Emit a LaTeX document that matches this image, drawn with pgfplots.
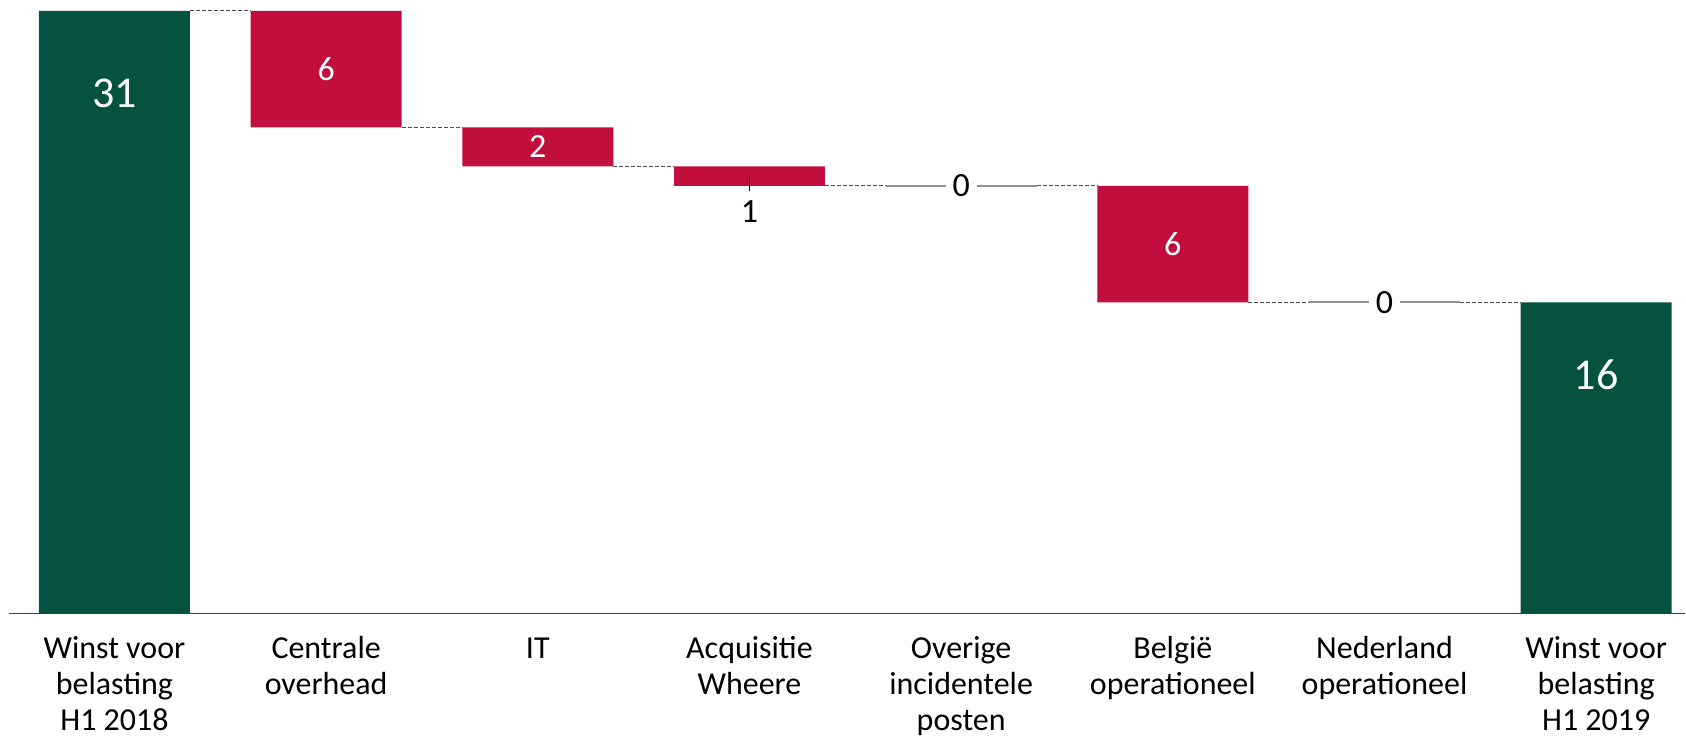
\documentclass[border=0pt]{standalone}
\usepackage{fontspec}
\setmainfont{Carlito}
\usepackage{pgfplots}
\usepackage{pgfplotstable}
\pgfplotsset{compat=1.18}

\definecolor{profitgreen}{HTML}{055241}
\definecolor{lossred}{HTML}{C20E3D}
\definecolor{zerogray}{HTML}{909090}
\definecolor{linkgray}{HTML}{505050}

% Waterfall steps: invisible base, red decrease, green total
\pgfplotstableread{
x base red green
0 0  0 31
1 25 6 0
2 23 2 0
3 22 1 0
4 22 0 0
5 16 6 0
6 16 0 0
7 0  0 16
}\steps

% Dashed connectors between neighbouring bars (half bar width 0.3565)
\pgfplotstableread{
x y
0.3565 31
0.6435 31
nan nan
1.3565 25
1.6435 25
nan nan
2.3565 23
2.6435 23
nan nan
3.3565 22
3.6435 22
nan nan
4.3565 22
4.6435 22
nan nan
5.3565 16
5.6435 16
nan nan
6.3565 16
6.6435 16
}\links

% Flat lines for the steps with no change
\pgfplotstableread{
x y
3.6435 22
4.3565 22
nan nan
5.6435 16
6.3565 16
}\flats

\pgfplotstableread{
x y label
0 26.74 31
7 12.30 16
}\biglabels

\pgfplotstableread{
x y label
1 28 6
2 24 2
5 19 6
}\redlabels

\pgfplotstableread{
x y label
3 20.69 1
}\belowlabels

\pgfplotstableread{
x y label
4 22 0
6 16 0
}\zerolabels

\begin{document}
\begin{tikzpicture}
\pgfplotsset{
  frame/.style={
    scale only axis, width=839pt, height=301.6pt,
    xmin=-0.5, xmax=7.42, ymin=0, ymax=31,
    clip=false,
  },
}
\begin{axis}[
  frame, name=main,
  ybar stacked, bar width=0.713,
  axis x line=bottom, axis y line=none, ytick=\empty,
  x axis line style={-, black!75, line width=0.9pt},
  xtick={0,...,7},
  xticklabels={
    {\strut Winst voor\\belasting\\H1 2018},
    {\strut Centrale\\overhead},
    {\strut IT},
    {\strut Acquisitie\\Wheere},
    {\strut Overige\\incidentele\\posten},
    {\strut België\\operationeel},
    {\strut Nederland\\operationeel},
    {\strut Winst voor\\belasting\\H1 2019}},
  major tick length=0pt,
  xticklabel style={font=\fontsize{16}{18.2}\selectfont, align=center,
    anchor=north, inner sep=0pt, yshift=-9.4pt},
]
\addplot[draw=none, fill=none] table[x=x, y=base] {\steps};
\addplot[draw=none, fill=lossred] table[x=x, y=red] {\steps};
\addplot[draw=none, fill=profitgreen] table[x=x, y=green] {\steps};
\end{axis}

\begin{axis}[frame, hide axis]
\addplot[linkgray, line width=0.6pt, dash pattern=on 2pt off 1pt,
  unbounded coords=jump, mark=none] table {\links};
\addplot[zerogray, line width=1pt, unbounded coords=jump, mark=none] table {\flats};
% leader from the small bar down to its value
\addplot[black, line width=0.6pt, mark=none] coordinates {(3,22.48) (3,21.71)};

\addplot[draw=none, mark=none, point meta=explicit symbolic, nodes near coords,
  every node near coord/.append style={anchor=center, text=white,
    font=\fontsize{22}{26}\selectfont}]
  table[meta=label] {\biglabels};
\addplot[draw=none, mark=none, point meta=explicit symbolic, nodes near coords,
  every node near coord/.append style={anchor=center, text=white,
    font=\fontsize{17}{20}\selectfont}]
  table[meta=label] {\redlabels};
\addplot[draw=none, mark=none, point meta=explicit symbolic, nodes near coords,
  every node near coord/.append style={anchor=center, text=black,
    font=\fontsize{17}{20}\selectfont}]
  table[meta=label] {\belowlabels};
\addplot[draw=none, mark=none, point meta=explicit symbolic, nodes near coords,
  every node near coord/.append style={anchor=center, text=black, fill=white,
    inner xsep=3.5pt, inner ysep=1pt, font=\fontsize{17}{20}\selectfont}]
  table[meta=label] {\zerolabels};
\end{axis}
\path ([xshift=-4.3pt, yshift=5.4pt]main.north west);
\path ([yshift=-1pt]main.outer south west);
\end{tikzpicture}
\end{document}
